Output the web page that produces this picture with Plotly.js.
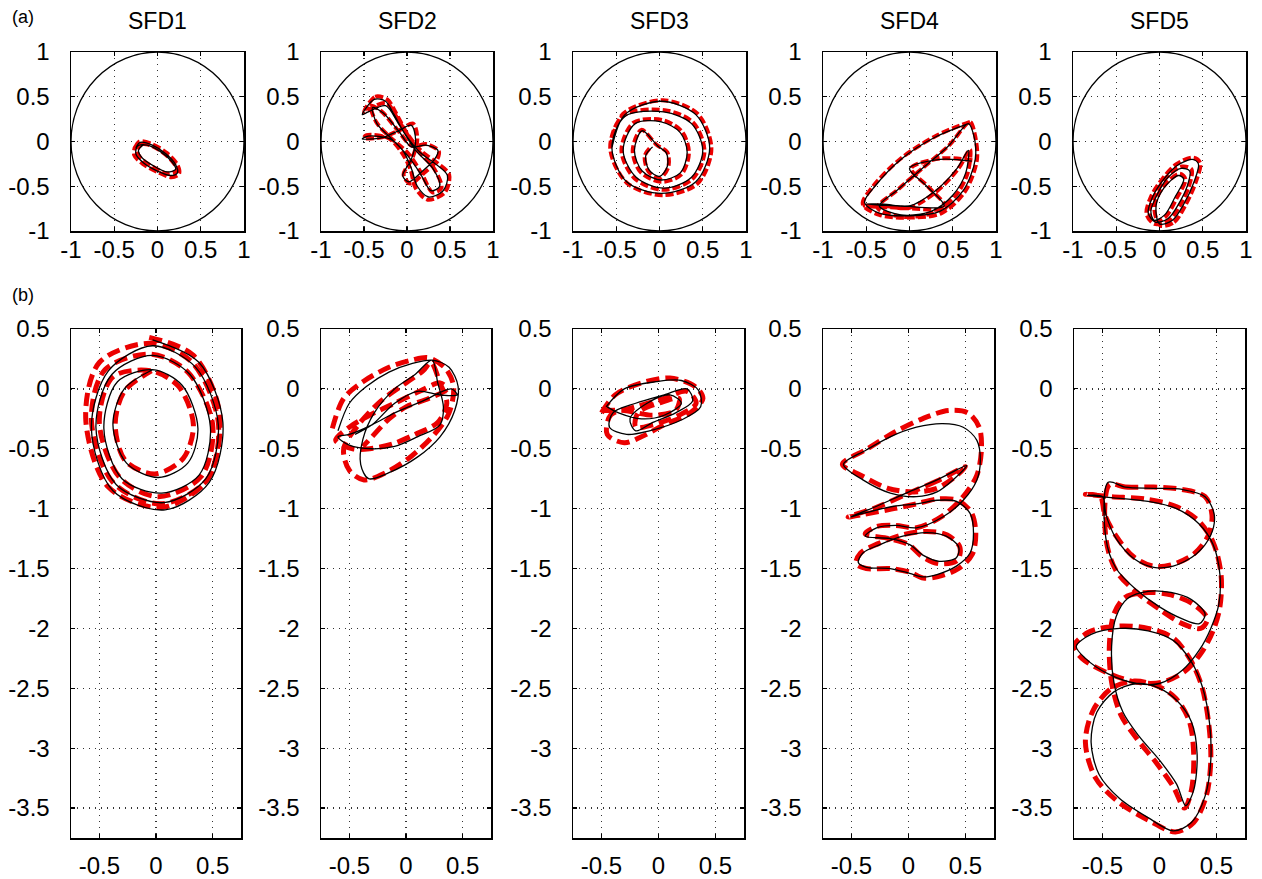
<!DOCTYPE html>
<html><head><meta charset="utf-8">
<script src="https://cdn.plot.ly/plotly-3.0.1.min.js"></script>
<style>html,body{margin:0;padding:0;background:#fff}#chart{width:1262px;height:879px}</style>
</head><body><div id="chart"></div>
<script>
// ---------- data ----------
const panelTitles = ['SFD1','SFD2','SFD3','SFD4','SFD5'];
const rowLabels = ['(a)','(b)'];
const clearanceRadius = 1;
const topTickVals = [-1,-0.5,0,0.5,1];
const topTickText = ['-1','-0.5','0','0.5','1'];
const botXTickVals = [-0.5,0,0.5];
const botXTickText = ['-0.5','0','0.5'];
const botYTickVals = [0.5,0,-0.5,-1,-1.5,-2,-2.5,-3,-3.5];
const botYTickText = ['0.5','0','-0.5','-1','-1.5','-2','-2.5','-3','-3.5'];

// (a) SFD1
const a1MeasX = [-0.25,-0.2,-0.06,0.1,0.21,0.23,0.15,0.0,-0.16,-0.25,-0.23,-0.12,0.03,0.16,0.21,0.11,-0.05,-0.18,-0.22,-0.16];
const a1MeasY = [-0.07,-0.01,-0.04,-0.14,-0.26,-0.35,-0.38,-0.33,-0.24,-0.14,-0.05,-0.04,-0.11,-0.22,-0.31,-0.34,-0.27,-0.18,-0.1,-0.03];
const a1SimX = [-0.26,-0.21,-0.06,0.11,0.23,0.25,0.16,0.0,-0.17,-0.27,-0.25,-0.13,0.03,0.17,0.23,0.12,-0.06,-0.19,-0.24,-0.17];
const a1SimY = [-0.07,0.0,-0.03,-0.13,-0.26,-0.36,-0.4,-0.34,-0.25,-0.15,-0.05,-0.03,-0.1,-0.22,-0.32,-0.36,-0.28,-0.19,-0.1,-0.02];
// (a) SFD2
const a2MeasX = [-0.52,-0.38,-0.25,-0.15,-0.02,0.15,0.33,0.47,0.42,0.25,0.12,0.05,-0.05,-0.2,-0.45,-0.52,-0.3,-0.1,0.05,0.1,0.05,-0.05,0.02,0.18,0.32,0.36,0.22,0.05,-0.1,-0.28,-0.4,-0.35,-0.2,0.0,0.15,0.28,0.38,0.3,0.1,-0.1,-0.25,-0.45,-0.52];
const a2MeasY = [0.3,0.47,0.45,0.3,0.08,-0.12,-0.25,-0.38,-0.55,-0.62,-0.5,-0.3,-0.1,0.03,0.06,0.03,0.04,0.12,0.18,0.02,-0.2,-0.38,-0.45,-0.33,-0.2,-0.1,-0.04,-0.06,0.12,0.32,0.38,0.2,0.05,-0.15,-0.35,-0.55,-0.5,-0.3,-0.1,0.2,0.4,0.33,0.3];
const a2SimX = [-0.5,-0.37,-0.23,-0.13,0.0,0.17,0.35,0.49,0.44,0.24,0.1,0.04,-0.07,-0.22,-0.47,-0.5,-0.28,-0.08,0.07,0.12,0.06,-0.04,0.04,0.2,0.34,0.37,0.23,0.06,-0.12,-0.3,-0.42,-0.36,-0.21,0.02,0.17,0.3,0.4,0.32,0.12,-0.09,-0.24,-0.46,-0.5];
const a2SimY = [0.33,0.5,0.47,0.32,0.09,-0.11,-0.24,-0.37,-0.57,-0.65,-0.52,-0.31,-0.11,0.04,0.07,0.04,0.05,0.13,0.2,0.03,-0.19,-0.37,-0.47,-0.35,-0.22,-0.11,-0.03,-0.05,0.14,0.34,0.4,0.22,0.06,-0.14,-0.36,-0.57,-0.52,-0.31,-0.09,0.22,0.43,0.35,0.33];
// (a) SFD3
const a3MeasX = [-0.55,-0.4,0.02,0.42,0.58,0.42,0.02,-0.38,-0.55,-0.4,0.05,0.37,0.5,0.37,0.05,-0.27,-0.42,-0.28,0.02,0.24,0.32,0.24,0.02,-0.2,-0.29,-0.2,-0.02,0.08,0.09,0.0,-0.12,-0.16,-0.08];
const a3MeasY = [-0.07,0.3,0.45,0.3,-0.07,-0.45,-0.58,-0.45,-0.07,0.28,0.33,0.2,-0.1,-0.4,-0.52,-0.4,-0.1,0.2,0.22,0.1,-0.12,-0.35,-0.43,-0.33,-0.1,0.12,-0.05,-0.13,-0.28,-0.39,-0.32,-0.16,-0.06];
const a3SimX = [-0.57,-0.42,0.04,0.44,0.6,0.44,0.03,-0.38,-0.57,-0.42,0.06,0.39,0.52,0.38,0.04,-0.29,-0.44,-0.3,0.03,0.26,0.34,0.25,0.02,-0.22,-0.31,-0.21,-0.03,0.09,0.1,0.0,-0.13,-0.17,-0.09];
const a3SimY = [-0.07,0.31,0.46,0.31,-0.08,-0.47,-0.6,-0.46,-0.07,0.29,0.35,0.21,-0.11,-0.42,-0.54,-0.41,-0.1,0.21,0.24,0.11,-0.13,-0.37,-0.45,-0.34,-0.1,0.13,-0.04,-0.12,-0.29,-0.41,-0.33,-0.16,-0.05];
// (a) SFD4
const a4MeasX = [0.68,0.3,-0.1,-0.4,-0.52,-0.35,0.0,0.35,0.62,0.76,0.74,0.68,0.45,0.15,-0.15,-0.35,-0.1,0.25,0.5,0.65,0.68,0.55,0.3,0.0,-0.3,-0.5,-0.1,0.4,0.2,0.0,0.35,0.72];
const a4MeasY = [0.2,0.05,-0.2,-0.5,-0.68,-0.8,-0.83,-0.78,-0.55,-0.2,0.08,0.2,-0.05,-0.3,-0.55,-0.72,-0.82,-0.78,-0.6,-0.35,-0.1,-0.3,-0.55,-0.72,-0.7,-0.7,-0.72,-0.72,-0.5,-0.3,-0.2,-0.22];
const a4SimX = [0.7,0.32,-0.1,-0.42,-0.54,-0.35,0.02,0.37,0.64,0.78,0.75,0.7,0.46,0.16,-0.15,-0.37,-0.1,0.26,0.52,0.67,0.7,0.56,0.31,0.0,-0.3,-0.52,-0.1,0.42,0.22,0.02,0.36,0.74];
const a4SimY = [0.22,0.07,-0.19,-0.5,-0.7,-0.82,-0.85,-0.8,-0.56,-0.2,0.1,0.22,-0.04,-0.29,-0.55,-0.74,-0.84,-0.8,-0.62,-0.36,-0.09,-0.31,-0.56,-0.74,-0.72,-0.72,-0.74,-0.74,-0.51,-0.3,-0.19,-0.21];
// (a) SFD5
const a5MeasX = [0.0,0.15,0.28,0.4,0.45,0.38,0.2,0.05,-0.08,-0.13,-0.05,0.1,0.22,0.32,0.35,0.25,0.1,-0.02,-0.1,-0.06,0.06,0.18,0.28,0.22,0.05,-0.04,0.0];
const a5MeasY = [-0.92,-0.88,-0.7,-0.45,-0.25,-0.2,-0.27,-0.42,-0.62,-0.8,-0.9,-0.86,-0.7,-0.5,-0.33,-0.3,-0.4,-0.58,-0.78,-0.88,-0.82,-0.62,-0.42,-0.38,-0.52,-0.72,-0.92];
const a5SimX = [0.01,0.17,0.3,0.42,0.47,0.39,0.2,0.04,-0.1,-0.15,-0.06,0.11,0.24,0.34,0.37,0.26,0.09,-0.04,-0.12,-0.07,0.07,0.2,0.3,0.23,0.04,-0.06,0.01];
const a5SimY = [-0.94,-0.9,-0.71,-0.45,-0.24,-0.18,-0.25,-0.41,-0.62,-0.81,-0.92,-0.88,-0.71,-0.5,-0.31,-0.28,-0.39,-0.58,-0.79,-0.9,-0.84,-0.63,-0.42,-0.36,-0.51,-0.73,-0.94];

// (b) SFD1
const b1MeasX = [-0.03,0.38,0.59,0.47,0.08,-0.38,-0.57,-0.42,-0.03,0.35,0.55,0.44,0.07,-0.35,-0.53,-0.39,-0.03,0.3,0.48,0.38,0.05,-0.3,-0.46,-0.34,-0.03,0.23,0.37,0.28,0.02,-0.26,-0.38,-0.28,-0.03];
const b1MeasY = [0.41,0.22,-0.28,-0.78,-1.01,-0.85,-0.33,0.15,0.36,0.18,-0.3,-0.75,-0.95,-0.8,-0.32,0.12,0.28,0.12,-0.32,-0.72,-0.87,-0.75,-0.33,0.06,0.16,0.03,-0.33,-0.62,-0.74,-0.62,-0.3,0.0,0.16];
const b1SimX = [-0.06,0.33,0.56,0.46,0.05,-0.42,-0.62,-0.5,-0.05,0.32,0.55,0.45,0.04,-0.38,-0.57,-0.45,-0.04,0.28,0.5,0.4,0.02,-0.32,-0.5,-0.38,-0.04,0.2,0.33,0.24,-0.01,-0.27,-0.36,-0.28,-0.04];
const b1SimY = [0.43,0.28,-0.2,-0.75,-0.99,-0.82,-0.25,0.22,0.38,0.22,-0.28,-0.76,-0.96,-0.78,-0.26,0.16,0.29,0.14,-0.3,-0.73,-0.9,-0.74,-0.28,0.1,0.15,0.02,-0.3,-0.58,-0.71,-0.6,-0.3,-0.02,0.15];
// (b) SFD2
const b2MeasX = [-0.6,-0.5,-0.35,-0.15,0.05,0.23,0.38,0.46,0.43,0.3,0.1,-0.15,-0.33,-0.4,-0.38,-0.28,-0.1,0.08,0.23,0.28,0.33,0.3,0.1,-0.1,-0.3,-0.5,-0.6,-0.5,-0.3,-0.1,0.15,0.4,0.45,0.3,0.1,-0.1,-0.3,-0.45];
const b2MeasY = [-0.35,-0.12,0.02,0.14,0.21,0.24,0.18,0.02,-0.18,-0.4,-0.57,-0.7,-0.75,-0.63,-0.42,-0.2,0.0,0.12,0.24,0.05,-0.15,-0.3,-0.4,-0.48,-0.5,-0.47,-0.4,-0.38,-0.3,-0.2,-0.1,0.0,-0.05,-0.05,-0.02,-0.12,-0.3,-0.38];
const b2SimX = [-0.65,-0.55,-0.38,-0.15,0.05,0.2,0.35,0.42,0.38,0.25,0.05,-0.18,-0.37,-0.5,-0.55,-0.42,-0.22,0.0,0.15,0.22,0.3,0.36,0.28,0.08,-0.12,-0.32,-0.47,-0.62,-0.5,-0.32,-0.1,0.12,0.3,0.36,0.2,0.0,-0.15,-0.3,-0.38];
const b2SimY = [-0.33,-0.08,0.06,0.18,0.24,0.26,0.17,0.02,-0.2,-0.38,-0.56,-0.7,-0.76,-0.68,-0.5,-0.3,-0.1,0.05,0.15,0.22,0.05,-0.12,-0.28,-0.38,-0.46,-0.5,-0.5,-0.43,-0.32,-0.22,-0.12,-0.02,0.05,0.0,-0.08,-0.15,-0.25,-0.4,-0.48];
// (b) SFD3
const b3MeasX = [-0.46,-0.3,-0.02,0.2,0.35,0.37,0.2,-0.08,-0.28,-0.43,-0.4,-0.2,0.05,0.25,0.3,0.15,-0.05,-0.2,-0.25,-0.1,0.1,0.2,0.05,-0.15,-0.35,-0.45];
const b3MeasY = [-0.15,0.0,0.06,0.07,-0.01,-0.15,-0.26,-0.35,-0.38,-0.32,-0.2,-0.12,-0.05,0.0,-0.1,-0.2,-0.28,-0.35,-0.25,-0.12,-0.05,-0.12,-0.22,-0.25,-0.2,-0.15];
const b3SimX = [-0.5,-0.38,-0.15,0.1,0.32,0.39,0.28,0.05,-0.15,-0.3,-0.45,-0.42,-0.2,0.05,0.25,0.33,0.18,-0.05,-0.2,-0.18,0.0,0.18,0.15,-0.05,-0.3,-0.48];
const b3SimY = [-0.2,-0.05,0.05,0.09,0.02,-0.08,-0.2,-0.3,-0.4,-0.45,-0.38,-0.22,-0.15,-0.08,-0.02,-0.12,-0.22,-0.3,-0.32,-0.2,-0.12,-0.08,-0.18,-0.22,-0.18,-0.18];
// (b) SFD4
const b4MeasX = [0.51,0.25,-0.02,-0.28,-0.51,-0.4,-0.13,0.07,0.25,0.42,0.54,0.57,0.54,0.42,0.25,0.13,0.01,-0.16,-0.37,-0.44,-0.4,-0.25,-0.05,0.16,0.33,0.44,0.42,0.27,0.13,0.01,-0.16,-0.38,-0.28,-0.11,0.07,0.3,0.48,0.6,0.63,0.6,0.48,0.3,0.07,-0.16,-0.37,-0.57,-0.4,-0.16,0.07,0.25,0.39,0.51];
const b4MeasY = [-0.64,-0.76,-0.87,-0.98,-1.07,-1.04,-0.98,-0.96,-0.93,-0.94,-1.04,-1.2,-1.37,-1.48,-1.55,-1.57,-1.54,-1.5,-1.49,-1.45,-1.37,-1.3,-1.23,-1.2,-1.23,-1.32,-1.41,-1.44,-1.39,-1.3,-1.25,-1.23,-1.16,-1.14,-1.16,-1.07,-0.93,-0.76,-0.6,-0.43,-0.32,-0.29,-0.32,-0.4,-0.51,-0.63,-0.76,-0.87,-0.9,-0.86,-0.76,-0.64];
const b4SimX = [0.5,0.25,-0.02,-0.28,-0.53,-0.41,-0.13,0.07,0.25,0.43,0.55,0.59,0.56,0.44,0.25,0.13,0.01,-0.16,-0.37,-0.46,-0.42,-0.26,-0.06,0.16,0.34,0.45,0.43,0.27,0.12,0.0,-0.17,-0.38,-0.28,-0.11,0.07,0.3,0.48,0.6,0.64,0.62,0.52,0.35,0.12,-0.12,-0.36,-0.58,-0.42,-0.18,0.05,0.25,0.4,0.5];
const b4SimY = [-0.65,-0.77,-0.88,-0.99,-1.07,-1.05,-1.0,-0.96,-0.92,-0.93,-1.03,-1.2,-1.38,-1.5,-1.57,-1.58,-1.53,-1.5,-1.5,-1.46,-1.37,-1.29,-1.22,-1.19,-1.22,-1.32,-1.43,-1.46,-1.4,-1.3,-1.25,-1.21,-1.15,-1.14,-1.16,-1.06,-0.9,-0.72,-0.5,-0.32,-0.2,-0.18,-0.25,-0.36,-0.5,-0.63,-0.72,-0.83,-0.86,-0.83,-0.74,-0.65];
// (b) SFD5
const b5MeasX = [-0.45,-0.3,-0.05,0.2,0.4,0.48,0.45,0.32,0.12,-0.05,-0.22,-0.38,-0.47,-0.5,-0.63,-0.4,-0.1,0.15,0.35,0.47,0.53,0.52,0.45,0.35,0.2,0.0,-0.2,-0.45,-0.65,-0.73,-0.6,-0.35,-0.1,0.12,0.28,0.38,0.44,0.45,0.4,0.28,0.12,-0.1,-0.35,-0.53,-0.6,-0.55,-0.4,-0.2,0.0,0.15,0.28,0.33,0.3,0.23,0.15,0.0,-0.18,-0.32,-0.4,-0.42,-0.38,-0.28,-0.1,0.1,0.28,0.4,0.35,0.2,0.0,-0.2,-0.38,-0.47,-0.45];
const b5MeasY = [-0.78,-0.82,-0.83,-0.84,-0.9,-1.05,-1.22,-1.38,-1.48,-1.49,-1.42,-1.25,-1.05,-0.9,-0.89,-0.91,-0.94,-1.0,-1.13,-1.3,-1.55,-1.8,-2.0,-2.18,-2.35,-2.46,-2.46,-2.38,-2.25,-2.15,-2.05,-2.0,-2.02,-2.1,-2.28,-2.5,-2.8,-3.1,-3.4,-3.62,-3.69,-3.58,-3.42,-3.22,-2.95,-2.7,-2.53,-2.46,-2.5,-2.6,-2.78,-3.05,-3.35,-3.48,-3.3,-3.1,-2.9,-2.7,-2.45,-2.15,-1.9,-1.75,-1.69,-1.7,-1.76,-1.88,-1.96,-1.92,-1.82,-1.68,-1.5,-1.25,-0.78];
const b5SimX = [-0.44,-0.3,-0.05,0.2,0.4,0.46,0.43,0.3,0.1,-0.06,-0.23,-0.38,-0.48,-0.52,-0.65,-0.42,-0.12,0.14,0.34,0.47,0.54,0.53,0.47,0.37,0.22,0.02,-0.2,-0.46,-0.68,-0.75,-0.62,-0.36,-0.1,0.12,0.27,0.37,0.43,0.45,0.41,0.3,0.14,-0.1,-0.36,-0.56,-0.65,-0.58,-0.42,-0.22,-0.02,0.14,0.26,0.3,0.28,0.22,0.12,-0.03,-0.2,-0.34,-0.42,-0.44,-0.4,-0.3,-0.1,0.1,0.3,0.42,0.36,0.2,0.0,-0.2,-0.38,-0.47,-0.44];
const b5SimY = [-0.8,-0.82,-0.82,-0.84,-0.9,-1.05,-1.22,-1.38,-1.47,-1.48,-1.4,-1.23,-1.05,-0.9,-0.88,-0.9,-0.92,-0.98,-1.1,-1.28,-1.55,-1.82,-2.02,-2.2,-2.36,-2.45,-2.45,-2.37,-2.25,-2.15,-2.03,-1.98,-2.0,-2.08,-2.26,-2.48,-2.78,-3.1,-3.4,-3.62,-3.7,-3.6,-3.45,-3.25,-2.95,-2.68,-2.5,-2.44,-2.48,-2.58,-2.77,-3.05,-3.35,-3.5,-3.32,-3.12,-2.92,-2.72,-2.45,-2.15,-1.88,-1.74,-1.7,-1.72,-1.8,-1.92,-2.0,-1.96,-1.84,-1.7,-1.52,-1.25,-0.8];

const measured = [[a1MeasX,a1MeasY],[a2MeasX,a2MeasY],[a3MeasX,a3MeasY],[a4MeasX,a4MeasY],[a5MeasX,a5MeasY],
                  [b1MeasX,b1MeasY],[b2MeasX,b2MeasY],[b3MeasX,b3MeasY],[b4MeasX,b4MeasY],[b5MeasX,b5MeasY]];
const simulated = [[a1SimX,a1SimY],[a2SimX,a2SimY],[a3SimX,a3SimY],[a4SimX,a4SimY],[a5SimX,a5SimY],
                   [b1SimX,b1SimY],[b2SimX,b2SimY],[b3SimX,b3SimY],[b4SimX,b4SimY],[b5SimX,b5SimY]];

// ---------- layout ----------
const W = 1262, H = 879;
const topCols = [[71,244],[321,493],[573,746],[823,996],[1073,1246]];
const botCols = [[71,241],[321,491],[573,744],[823,994],[1074,1245]];
const topRow = [52,231], botRow = [329,838];
const FONT = 'Liberation Sans, Arial, Helvetica, sans-serif';

const layout = {width:W, height:H, margin:{l:0,r:0,t:0,b:0}, paper_bgcolor:'#fff', plot_bgcolor:'#fff',
  showlegend:false, font:{family:FONT, color:'#000'}, shapes:[], annotations:[]};
const traces = [];

function axisBase(){
  return {showline:true, linecolor:'#000', linewidth:1.5, mirror:'ticks', ticks:'inside', ticklen:4,
    tickcolor:'#000', tickwidth:1.2, showgrid:true, gridcolor:'#333', griddash:'1px,5px', gridwidth:1.3,
    zeroline:false, tickfont:{family:FONT, size:24, color:'#000'}, fixedrange:true, tickmode:'array'};
}
for(let i=0;i<10;i++){
  const n = i+1, top = i<5, c = i%5;
  const col = top ? topCols[c] : botCols[c];
  const row = top ? topRow : botRow;
  const xa = axisBase(), ya = axisBase();
  xa.domain = [col[0]/W, col[1]/W];
  ya.domain = [1-row[1]/H, 1-row[0]/H];
  xa.anchor = 'y'+(n===1?'':n); ya.anchor = 'x'+(n===1?'':n);
  if(top){
    xa.range=[-1,1]; ya.range=[-1,1];
    xa.tickvals=topTickVals; xa.ticktext=topTickText; ya.tickvals=topTickVals; ya.ticktext=topTickText;
    xa.ticklabelstandoff = -3;
  } else {
    xa.range=[-0.75,0.75]; ya.range=[-3.75,0.5];
    xa.tickvals=botXTickVals; xa.ticktext=botXTickText; ya.tickvals=botYTickVals; ya.ticktext=botYTickText;
    xa.ticklabelstandoff = 6;
  }
  ya.ticklabelstandoff = 15;
  layout['xaxis'+(n===1?'':n)] = xa;
  layout['yaxis'+(n===1?'':n)] = ya;
  const xr = 'x'+(n===1?'':n), yr = 'y'+(n===1?'':n);
  if(top){
    layout.shapes.push({type:'circle', xref:xr, yref:yr, x0:-clearanceRadius, y0:-clearanceRadius,
      x1:clearanceRadius, y1:clearanceRadius, line:{color:'#000', width:1.3}, layer:'above'});
    layout.annotations.push({text:panelTitles[c], xref:'paper', yref:'paper', x:(col[0]+col[1])/2/W, y:1-21/H,
      xanchor:'center', yanchor:'middle', showarrow:false, font:{family:FONT, size:23, color:'#000'}});
  }
  traces.push({type:'scatter', mode:'lines', x:simulated[i][0], y:simulated[i][1], xaxis:xr, yaxis:yr,
    line:{color:'rgb(235,0,0)', width:top?4:5, dash:top?'8px,3px':'13px,6px', shape:'spline', smoothing:0.9}, hoverinfo:'skip'});
  traces.push({type:'scatter', mode:'lines', x:measured[i][0], y:measured[i][1], xaxis:xr, yaxis:yr,
    line:{color:'#000', width:1.3, shape:'spline', smoothing:0.9}, hoverinfo:'skip'});
}
layout.annotations.push({text:rowLabels[0], xref:'paper', yref:'paper', x:10/W, y:1-17/H, xanchor:'left', yanchor:'middle',
  showarrow:false, font:{family:FONT, size:18, color:'#000'}});
layout.annotations.push({text:rowLabels[1], xref:'paper', yref:'paper', x:10/W, y:1-295/H, xanchor:'left', yanchor:'middle',
  showarrow:false, font:{family:FONT, size:18, color:'#000'}});

Plotly.newPlot('chart', traces, layout, {staticPlot:true, displayModeBar:false});
</script></body></html>
